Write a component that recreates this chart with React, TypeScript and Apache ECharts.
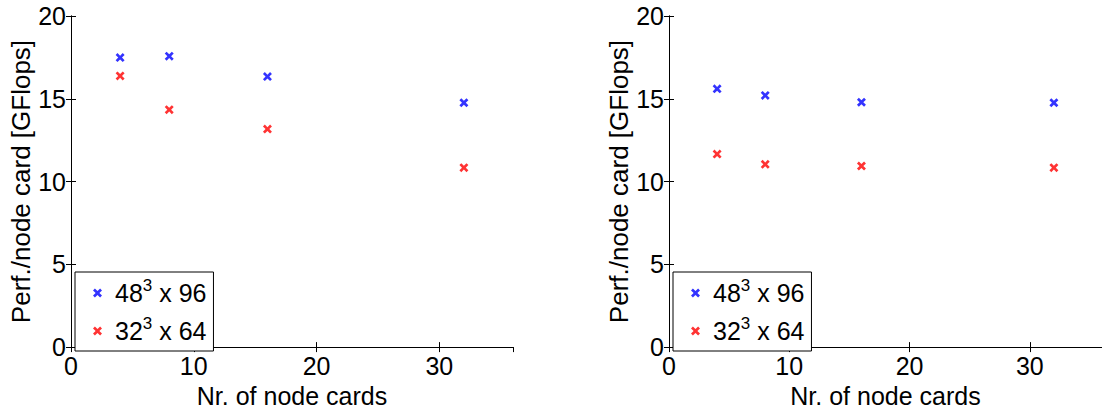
import React, { useEffect, useRef } from "react";
import * as echarts from "echarts";

const seriesNames = ["48³ x 96", "32³ x 64"];
const nodeCards = [4, 8, 16, 32];
const leftBlue = [17.49, 17.57, 16.34, 14.76];
const leftRed = [16.38, 14.34, 13.17, 10.84];
const rightBlue = [15.6, 15.2, 14.79, 14.76];
const rightRed = [11.66, 11.04, 10.94, 10.84];
const xTicks = [0, 10, 20, 30];
const yTicks = [0, 5, 10, 15, 20];

const FONT = "'Liberation Sans', Arial, Helvetica, sans-serif";
const CROSS =
  "path://M0,2.1L2.1,0L5,2.9L7.9,0L10,2.1L7.1,5L10,7.9L7.9,10L5,7.1L2.1,10L0,7.9L2.9,5Z";

const grids = [
  { left: 71, top: 16, width: 442, height: 339 },
  { left: 669, top: 16, width: 442, height: 339 },
];

export default function App() {
  const ref = useRef<HTMLDivElement>(null);
  useEffect(() => {
    if (!ref.current) return;
    const chart = echarts.init(ref.current, undefined, { renderer: "svg" });
    const xMin = xTicks[0];
    const xMax = 36;
    const yMin = yTicks[0];
    const yMax = yTicks[yTicks.length - 1];
    const lineStyle = { color: "#000", width: 1 };
    const tick = { show: true, inside: true, length: 5, lineStyle };

    const xAxis: any[] = [];
    const yAxis: any[] = [];
    grids.forEach((_, gi) => {
      xAxis.push({
        type: "value",
        gridIndex: gi,
        min: xMin,
        max: xMax,
        interval: 10,
        position: "bottom",
        name: "Nr. of node cards",
        nameLocation: "middle",
        nameGap: 30,
        nameTextStyle: { fontSize: 25, color: "#000", fontFamily: FONT },
        axisLine: { show: true, lineStyle },
        axisTick: tick,
        axisLabel: {
          fontSize: 25,
          color: "#000",
          fontFamily: FONT,
          margin: 6,
          showMaxLabel: false,
        },
        splitLine: { show: false },
      });
      xAxis.push({
        type: "value",
        gridIndex: gi,
        min: xMin,
        max: xMax,
        interval: 10,
        position: "top",
        axisLine: { show: true, lineStyle },
        axisTick: tick,
        axisLabel: { show: false },
        splitLine: { show: false },
      });
      yAxis.push({
        type: "value",
        gridIndex: gi,
        min: yMin,
        max: yMax,
        interval: 5,
        position: "left",
        name: "Perf./node card [GFlops]",
        nameLocation: "middle",
        nameGap: 36,
        nameTextStyle: { fontSize: 26, color: "#000", fontFamily: FONT },
        axisLine: { show: true, lineStyle },
        axisTick: tick,
        axisLabel: { fontSize: 25, color: "#000", fontFamily: FONT, margin: 5 },
        splitLine: { show: false },
      });
      yAxis.push({
        type: "value",
        gridIndex: gi,
        min: yMin,
        max: yMax,
        interval: 5,
        position: "right",
        axisLine: { show: true, lineStyle },
        axisTick: tick,
        axisLabel: { show: false },
        splitLine: { show: false },
      });
    });

    const mk = (name: string, color: string, values: number[], gi: number) => ({
      type: "scatter",
      name,
      xAxisIndex: gi * 2,
      yAxisIndex: gi * 2,
      symbol: CROSS,
      symbolSize: 9,
      itemStyle: { color },
      data: nodeCards.map((x, i) => [x, values[i]]),
    });

    const legend = grids.map((g) => ({
      orient: "vertical",
      left: g.left + 4,
      top: 272,
      data: seriesNames,
      backgroundColor: "#fff",
      borderColor: "#000",
      borderWidth: 1,
      borderRadius: 0,
      padding: [5, 7, 4, 18],
      itemWidth: 9,
      itemHeight: 9,
      itemGap: 6,
      selectedMode: false,
      formatter: (name: string) => name.replace("³", "{sup|3}"),
      textStyle: {
        fontSize: 25,
        color: "#000",
        fontFamily: FONT,
        lineHeight: 32,
        padding: [0, 0, 0, 8],
        rich: {
          sup: {
            fontSize: 17,
            color: "#000",
            fontFamily: FONT,
            lineHeight: 14,
            verticalAlign: "top",
          },
        },
      },
    }));

    chart.setOption({
      animation: false,
      backgroundColor: "#fff",
      grid: grids.map((g) => ({ ...g, containLabel: false })),
      xAxis,
      yAxis,
      legend,
      series: [
        mk(seriesNames[0], "#0000ff", leftBlue, 0),
        mk(seriesNames[1], "#ff0000", leftRed, 0),
        mk(seriesNames[0], "#0000ff", rightBlue, 1),
        mk(seriesNames[1], "#ff0000", rightRed, 1),
      ],
    });
    return () => chart.dispose();
  }, []);
  return (
    <div
      ref={ref}
      style={{ position: "absolute", left: 0, top: 0, width: 1102, height: 413 }}
    />
  );
}
